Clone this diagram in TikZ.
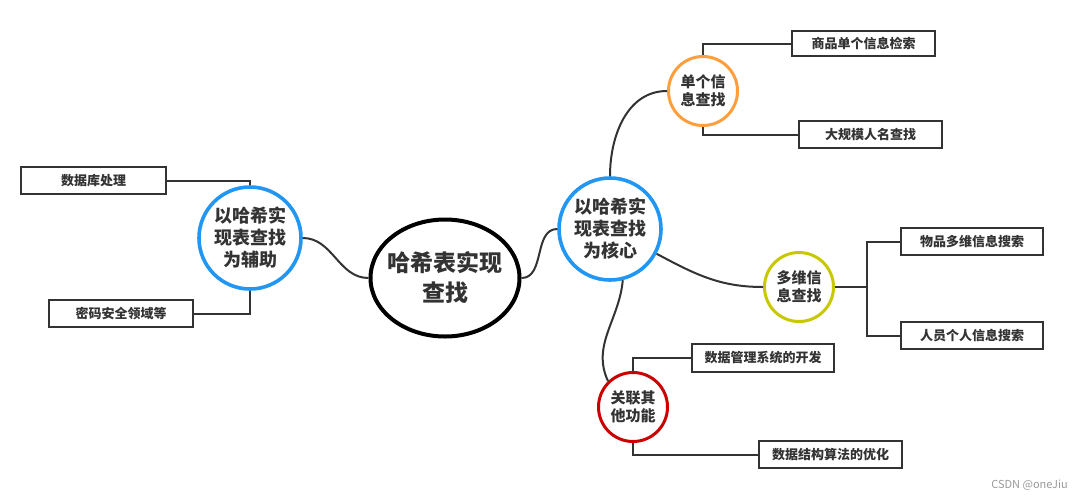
\documentclass[tikz,border=0pt]{standalone}
\usepackage{fontspec}
\setmainfont{Noto Sans CJK SC}
\usetikzlibrary{shapes.geometric}
\definecolor{ln}{HTML}{333333}
\definecolor{cblue}{HTML}{2196F3}
\definecolor{corange}{HTML}{FF9E3D}
\definecolor{cyellow}{HTML}{C8C800}
\definecolor{cred}{HTML}{CC0000}
\tikzset{
  conn/.style={draw=ln, line width=2pt},
  leaf/.style={draw=ln, line width=2pt, fill=white, inner sep=0pt, font=\fontsize{13}{15}\selectfont\bfseries, text=ln},
  bigc/.style={circle, draw=cblue, line width=3.6pt, minimum size=102pt, inner sep=0pt, align=center, font=\fontsize{18}{22}\selectfont\bfseries, text=ln},
  smallc/.style={circle, line width=3pt, minimum size=69pt, inner sep=0pt, align=center, font=\fontsize{15}{18}\selectfont\bfseries, text=ln},
}
\begin{document}
\begin{tikzpicture}[x=1pt,y=-1pt]
\useasboundingbox (0,0) rectangle (1075,499);
% center
\node[ellipse, draw=black, line width=4pt, minimum width=149pt, minimum height=117pt, inner sep=0pt,
  label={[font=\fontsize{23}{30}\selectfont\bfseries, text=ln, align=center]center:{哈希表实现\\查找}}] (E) at (445,278) {};
% left
\node[bigc] (L) at (250,238) {以哈希实\\现表查找\\为辅助};
\node[leaf, minimum width=145pt, minimum height=27pt] (L1) at (93.5,180.5) {数据库处理};
\node[leaf, minimum width=144pt, minimum height=27pt] (L2) at (121,313.5) {密码安全领域等};
% right
\node[bigc] (R) at (610,229) {以哈希实\\现表查找\\为核心};
\node[smallc, draw=corange] (O) at (703,91) {单个信\\息查找};
\node[smallc, draw=cyellow] (Y) at (799,287) {多维信\\息查找};
\node[smallc, draw=cred] (D) at (633,407) {关联其\\他功能};
\node[leaf, minimum width=143pt, minimum height=25pt] (O1) at (863.5,43.5) {商品单个信息检索};
\node[leaf, minimum width=143pt, minimum height=27pt] (O2) at (870.5,134.5) {大规模人名查找};
\node[leaf, minimum width=142pt, minimum height=27pt] (Y1) at (972,241.5) {物品多维信息搜索};
\node[leaf, minimum width=142pt, minimum height=27pt] (Y2) at (972,335.5) {人员个人信息搜索};
\node[leaf, minimum width=142pt, minimum height=28pt] (D1) at (763,358) {数据管理系统的开发};
\node[leaf, minimum width=143pt, minimum height=27pt] (D2) at (830.5,454.5) {数据结构算法的优化};
% connectors
\draw[conn] (L.east) to[out=0,in=180] (E.west);
\draw[conn] (E.east) to[out=0,in=180] (R.west);
\draw[conn] (L.north) |- (L1.east);
\draw[conn] (L.south) |- (L2.east);
\draw[conn] (R.north) to[out=90,in=180] (O.west);
\draw[conn] (R.-28) to[out=-28,in=180] (Y.west);
\draw[conn] (R.-76) to[out=-95,in=115] (D.134);
\draw[conn] (O.north) |- (O1.west);
\draw[conn] (O.south) |- (O2.west);
\coordinate (YJ) at (867,287);
\draw[conn] (Y.east) -- (YJ);
\draw[conn] (YJ) |- (Y1.west);
\draw[conn] (YJ) |- (Y2.west);
\draw[conn] (D.north) |- (D1.west);
\draw[conn] (D.south) |- (D2.west);
% watermark
\node[anchor=east, font=\fontsize{11}{13}\selectfont, text=black!40, inner sep=0pt] (wm) at (1068,485) {CSDN @oneJiu};
\end{tikzpicture}
\end{document}
